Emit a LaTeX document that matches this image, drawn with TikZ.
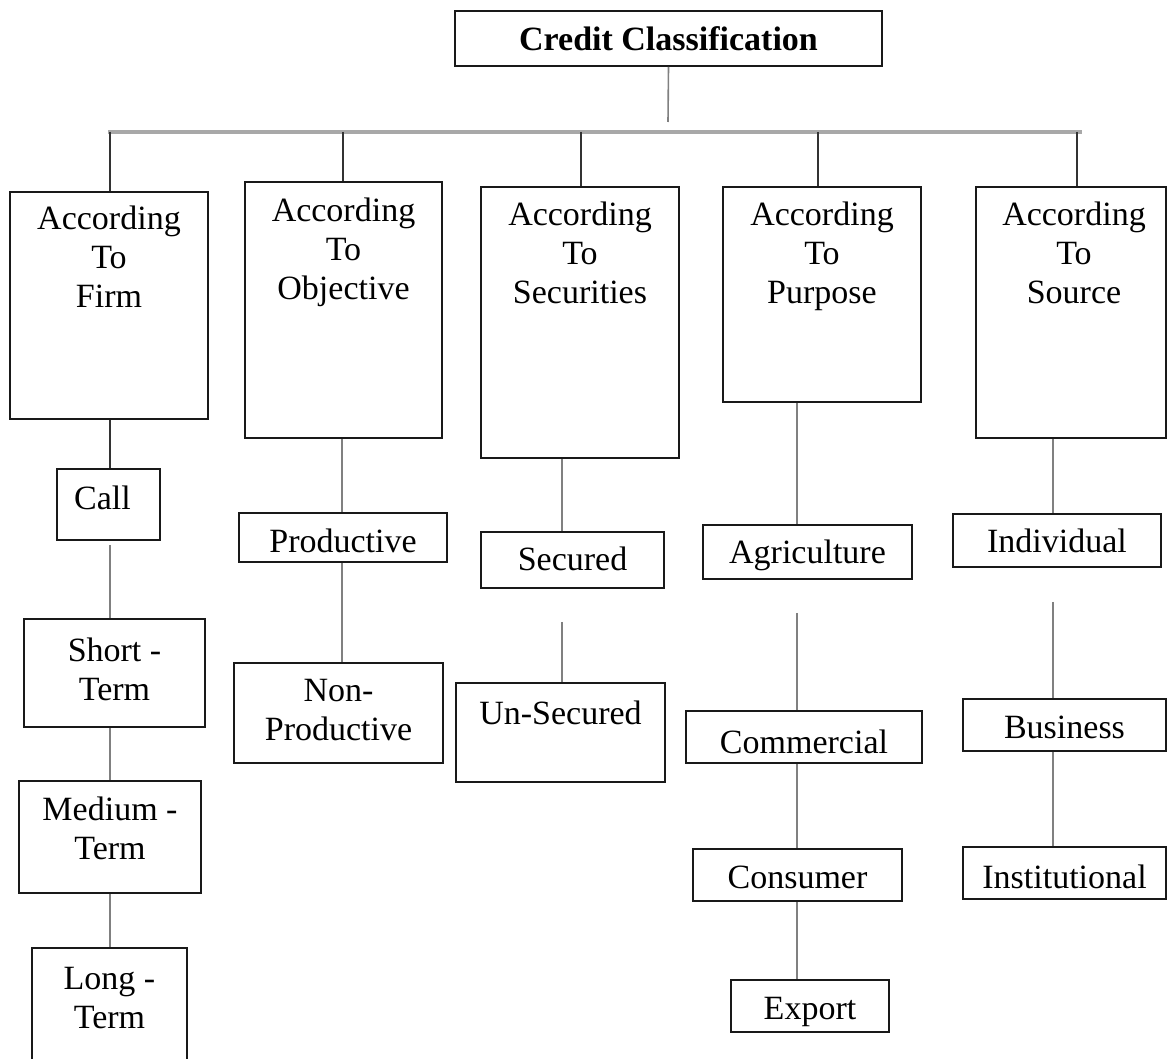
\documentclass[tikz,border=0pt]{standalone}
\usepackage{fontspec}
\setmainfont{Liberation Serif}
\usetikzlibrary{positioning}
\definecolor{linkgray}{gray}{0.5}
\definecolor{bargray}{gray}{0.66}
\tikzset{
  cbox/.style={draw=black!90, line width=1.7pt, inner sep=0pt},
  ctext/.style={inner sep=0pt, align=center, font=\fontsize{34}{39}\selectfont},
  link/.style={draw=linkgray, line width=1.6pt},
  drop/.style={draw=black!80, line width=1.6pt},
  bar/.style={draw=bargray, line width=4pt}
}
\begin{document}
\begin{tikzpicture}[x=1pt, y=-1pt]
  \useasboundingbox (0,0) rectangle (1168,1059);
  \clip (0,0) rectangle (1168,1059);
  \node[cbox, minimum width=427pt, minimum height=55pt] (title) at (668.5,38.5) {};
  \node[ctext, font=\fontsize{34}{39}\selectfont\bfseries, below=16pt of title.north] (title-t) {Credit Classification};

  \node[cbox, minimum width=198pt, minimum height=227pt] (firm) at (109,305.5) {};
  \node[cbox, minimum width=197pt, minimum height=256pt] (objective) at (343.5,310) {};
  \node[cbox, minimum width=198pt, minimum height=271pt] (securities) at (580,322.5) {};
  \node[cbox, minimum width=198pt, minimum height=215pt] (purpose) at (822,294.5) {};
  \node[cbox, minimum width=190pt, minimum height=251pt] (source) at (1071,312.5) {};
  \node[ctext, below=15pt of firm.north] (firm-t) {According\\To\\Firm};
  \node[ctext, below=17pt of objective.north] (objective-t) {According\\To\\Objective};
  \node[ctext, below=16pt of securities.north] (securities-t) {According\\To\\Securities};
  \node[ctext, below=16pt of purpose.north] (purpose-t) {According\\To\\Purpose};
  \node[ctext, below=16pt of source.north, xshift=3pt] (source-t) {According\\To\\Source};

  \node[cbox, minimum width=103pt, minimum height=71pt] (call) at (108.5,504.5) {};
  \node[cbox, minimum width=181pt, minimum height=108pt] (short) at (114.5,673) {};
  \node[cbox, minimum width=182pt, minimum height=112pt] (medium) at (110,837) {};
  \node[cbox, minimum width=155pt, minimum height=122pt] (long) at (109.5,1009) {};
  \node[ctext, below=18pt of call.north, xshift=-6pt] (call-t) {Call};
  \node[ctext, below=20pt of short.north] (short-t) {Short -\\Term};
  \node[ctext, below=17pt of medium.north] (medium-t) {Medium -\\Term};
  \node[ctext, below=20pt of long.north] (long-t) {Long -\\Term};

  \node[cbox, minimum width=208pt, minimum height=49pt] (productive) at (343,537.5) {};
  \node[cbox, minimum width=209pt, minimum height=100pt] (nonprod) at (338.5,713) {};
  \node[ctext, below=17pt of productive.north] (productive-t) {Productive};
  \node[ctext, below=17pt of nonprod.north] (nonprod-t) {Non-\\Productive};

  \node[cbox, minimum width=183pt, minimum height=56pt] (secured) at (572.5,560) {};
  \node[cbox, minimum width=209pt, minimum height=99pt] (unsecured) at (560.5,732.5) {};
  \node[ctext, below=16pt of secured.north] (secured-t) {Secured};
  \node[ctext, below=19pt of unsecured.north] (unsecured-t) {Un-Secured};

  \node[cbox, minimum width=209pt, minimum height=54pt] (agri) at (807.5,552) {};
  \node[cbox, minimum width=236pt, minimum height=52pt] (commercial) at (804,737) {};
  \node[cbox, minimum width=209pt, minimum height=52pt] (consumer) at (797.5,875) {};
  \node[cbox, minimum width=158pt, minimum height=52pt] (export) at (810,1006) {};
  \node[ctext, below=16pt of agri.north] (agri-t) {Agriculture};
  \node[ctext, below=20pt of commercial.north] (commercial-t) {Commercial};
  \node[ctext, below=18pt of consumer.north] (consumer-t) {Consumer};
  \node[ctext, below=18pt of export.north] (export-t) {Export};

  \node[cbox, minimum width=208pt, minimum height=53pt] (individual) at (1057,540.5) {};
  \node[cbox, minimum width=203pt, minimum height=52pt] (business) at (1064.5,725) {};
  \node[cbox, minimum width=203pt, minimum height=52pt] (institutional) at (1064.5,873) {};
  \node[ctext, below=16pt of individual.north] (individual-t) {Individual};
  \node[ctext, below=18pt of business.north] (business-t) {Business};
  \node[ctext, below=19pt of institutional.north] (institutional-t) {Institutional};

  \coordinate (stem) at (668,122);
  \coordinate (barL) at (108,132); \coordinate (barR) at (1082,132);
  \coordinate (d1) at (110,132); \coordinate (d2) at (343,132); \coordinate (d3) at (581,132);
  \coordinate (d4) at (818,132); \coordinate (d5) at (1077,132);
  \coordinate (c1) at (110,0); \coordinate (c2) at (342,0); \coordinate (c3) at (562,0);
  \coordinate (c4) at (797,0); \coordinate (c5) at (1053,0);

  \draw[link] (title.south) -- (stem);
  \draw[bar] (barL) -- (barR);
  \draw[drop] (d1) -- (d1 |- firm.north); \draw[drop] (d2) -- (d2 |- objective.north);
  \draw[drop] (d3) -- (d3 |- securities.north); \draw[drop] (d4) -- (d4 |- purpose.north);
  \draw[drop] (d5) -- (d5 |- source.north);

  \draw[drop] (c1 |- firm.south) -- (c1 |- call.north);
  \draw[link, shorten <=4pt] (c1 |- call.south) -- (c1 |- short.north);
  \draw[link] (c1 |- short.south) -- (c1 |- medium.north);
  \draw[link] (c1 |- medium.south) -- (c1 |- long.north);
  \draw[link] (c2 |- objective.south) -- (c2 |- productive.north);
  \draw[link] (c2 |- productive.south) -- (c2 |- nonprod.north);
  \draw[link] (c3 |- securities.south) -- (c3 |- secured.north);
  \draw[link, shorten <=33pt] (c3 |- secured.south) -- (c3 |- unsecured.north);
  \draw[link] (c4 |- purpose.south) -- (c4 |- agri.north);
  \draw[link, shorten <=33pt] (c4 |- agri.south) -- (c4 |- commercial.north);
  \draw[link] (c4 |- commercial.south) -- (c4 |- consumer.north);
  \draw[link] (c4 |- consumer.south) -- (c4 |- export.north);
  \draw[link] (c5 |- source.south) -- (c5 |- individual.north);
  \draw[link, shorten <=34pt] (c5 |- individual.south) -- (c5 |- business.north);
  \draw[link] (c5 |- business.south) -- (c5 |- institutional.north);
\end{tikzpicture}
\end{document}
